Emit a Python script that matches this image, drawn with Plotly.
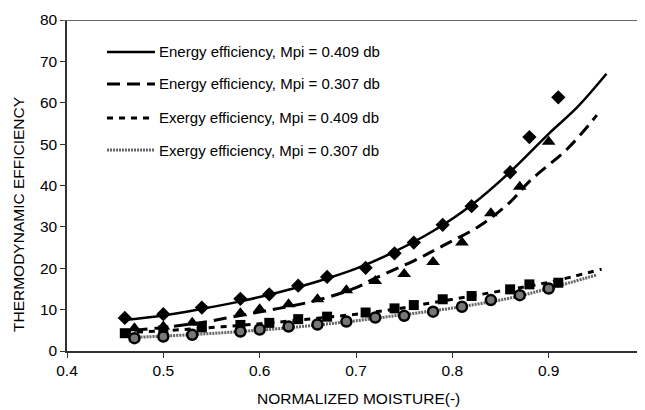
import plotly.graph_objects as go

# ---- data ----
x_409 = [0.46, 0.50, 0.54, 0.58, 0.61, 0.64, 0.67, 0.71, 0.74, 0.76, 0.79, 0.82, 0.86, 0.88, 0.91]
energy_409 = [8.0, 8.9, 10.5, 12.6, 13.7, 15.8, 17.9, 20.1, 23.6, 26.2, 30.5, 35.0, 43.2, 51.7, 61.3]
exergy_409 = [4.3, 5.0, 5.7, 6.3, 6.8, 7.7, 8.3, 9.3, 10.3, 11.1, 12.5, 13.3, 14.9, 16.1, 16.5]

x_307 = [0.47, 0.50, 0.53, 0.58, 0.60, 0.63, 0.66, 0.69, 0.72, 0.75, 0.78, 0.81, 0.84, 0.87, 0.90]
energy_307 = [5.5, 5.9, 6.8, 9.1, 10.1, 11.3, 12.5, 14.7, 16.9, 18.6, 21.5, 26.2, 33.3, 39.7, 50.6]
exergy_307 = [3.1, 3.5, 3.9, 4.7, 5.2, 5.9, 6.4, 7.1, 8.1, 8.5, 9.5, 10.7, 12.3, 13.5, 15.1]

# fitted curves
fit_x_e409 = [0.46, 0.50, 0.54, 0.58, 0.62, 0.66, 0.70, 0.74, 0.78, 0.82, 0.86, 0.90, 0.93, 0.96]
fit_y_e409 = [7.5, 8.6, 10.2, 12.0, 14.2, 16.8, 19.9, 24.0, 29.0, 35.3, 43.3, 52.5, 59.0, 67.0]

fit_x_e307 = [0.47, 0.50, 0.54, 0.58, 0.62, 0.66, 0.70, 0.72, 0.76, 0.79, 0.83, 0.86, 0.88, 0.92, 0.95]
fit_y_e307 = [5.0, 5.7, 6.9, 8.6, 10.3, 12.3, 15.3, 17.6, 21.8, 25.4, 30.5, 36.0, 41.0, 49.0, 57.0]

fit_x_x409 = [0.46, 0.50, 0.54, 0.58, 0.62, 0.66, 0.70, 0.74, 0.78, 0.82, 0.86, 0.90, 0.955]
fit_y_x409 = [4.4, 4.9, 5.5, 6.2, 7.0, 7.9, 8.9, 10.1, 11.7, 13.3, 14.9, 16.6, 19.8]

fit_x_x307 = [0.47, 0.50, 0.54, 0.58, 0.62, 0.66, 0.70, 0.74, 0.78, 0.82, 0.86, 0.90, 0.95]
fit_y_x307 = [3.3, 3.6, 4.1, 4.7, 5.4, 6.3, 7.3, 8.5, 9.7, 11.1, 12.8, 15.1, 18.4]

legend_labels = [
    "Energy efficiency, Mpi = 0.409 db",
    "Energy efficiency, Mpi = 0.307 db",
    "Exergy efficiency, Mpi = 0.409 db",
    "Exergy efficiency, Mpi = 0.307 db",
]
x_ticks = [0.4, 0.5, 0.6, 0.7, 0.8, 0.9, 1.0]
x_tick_text = ["0.4", "0.5", "0.6", "0.7", "0.8", "0.9", "1"]
y_ticks = [0, 10, 20, 30, 40, 50, 60, 70, 80]

FONT = "Liberation Sans, Arial, sans-serif"

styles = [
    dict(color="black", width=2.5, dash="solid"),
    dict(color="black", width=3, dash="13px,7px"),
    dict(color="black", width=3, dash="6px,6px"),
    dict(color="#666666", width=3, dash="2px,1px"),
]

fig = go.Figure()

fits = [(fit_x_e409, fit_y_e409), (fit_x_e307, fit_y_e307),
        (fit_x_x409, fit_y_x409), (fit_x_x307, fit_y_x307)]
for (fx, fy), st in zip(fits, styles):
    fig.add_trace(go.Scatter(x=fx, y=fy, mode="lines", line_shape="spline",
                             line=st, showlegend=False, hoverinfo="skip"))

fig.add_trace(go.Scatter(x=x_409, y=energy_409, mode="markers", showlegend=False,
                         marker=dict(symbol="diamond", size=11, color="black")))
fig.add_trace(go.Scatter(x=x_307, y=energy_307, mode="markers", showlegend=False,
                         marker=dict(symbol="triangle-up", size=12, color="black")))
fig.add_trace(go.Scatter(x=x_409, y=exergy_409, mode="markers", showlegend=False,
                         marker=dict(symbol="square", size=10, color="black")))
fig.add_trace(go.Scatter(x=x_307, y=exergy_307, mode="markers", showlegend=False,
                         marker=dict(symbol="circle", size=10, color="#777777",
                                     line=dict(color="black", width=2.5))))

# page body has an 8px offset; reference coordinates are window pixels
OFF = 8
plot_l, plot_w = 67, 578
plot_t, plot_h = 20, 331
W, H = 645, 410

def px(xp):
    return (xp - plot_l) / plot_w
def py(yp):
    return 1 - (yp - plot_t) / plot_h

rows_y = [52, 84, 118, 150]
shapes = []
annotations = []
for label, st, ry in zip(legend_labels, styles, rows_y):
    shapes.append(dict(type="line", xref="paper", yref="paper",
                       x0=px(107), x1=px(155), y0=py(ry), y1=py(ry),
                       line=dict(color=st["color"], width=st["width"], dash=st["dash"])))
    annotations.append(dict(text=label, xref="paper", yref="paper",
                            x=px(157), y=py(ry), xanchor="left", yanchor="middle",
                            showarrow=False, font=dict(family=FONT, size=15, color="black")))

# top border line at 80
shapes.append(dict(type="line", xref="paper", yref="y", x0=px(62), x1=1, y0=80, y1=80,
                   line=dict(color="#666666", width=2)))

annotations.append(dict(text="THERMODYNAMIC EFFICIENCY", xref="paper", yref="paper",
                        x=px(18), y=py(215), textangle=-90, showarrow=False,
                        xanchor="center", yanchor="middle",
                        font=dict(family=FONT, size=15.5, color="black")))
annotations.append(dict(text="NORMALIZED MOISTURE(-)", xref="paper", yref="paper",
                        x=px(358), y=py(399), showarrow=False,
                        xanchor="center", yanchor="middle",
                        font=dict(family=FONT, size=15.5, color="black")))

fig.update_layout(
    width=W, height=H,
    margin=dict(l=plot_l - OFF, r=W - (plot_l - OFF) - plot_w, t=plot_t - OFF,
                b=H - (plot_t - OFF) - plot_h, autoexpand=False),
    paper_bgcolor="white", plot_bgcolor="white",
    font=dict(family=FONT, size=15, color="black"),
    shapes=shapes, annotations=annotations,
    xaxis=dict(range=[0.4, 1.0], tickvals=x_ticks, ticktext=x_tick_text,
               showgrid=False, zeroline=False, showline=True, linecolor="#333333",
               linewidth=1.5, ticks="outside", ticklen=5, tickcolor="#333333",
               tickfont=dict(family=FONT, size=15.5), automargin=False),
    yaxis=dict(range=[0, 80], tickvals=y_ticks, showgrid=False, zeroline=False,
               showline=True, linecolor="#333333", linewidth=1.5, ticks="outside",
               ticklen=5, tickcolor="#333333", tickfont=dict(family=FONT, size=15.5),
               automargin=False),
)

fig.write_html("out.html")
